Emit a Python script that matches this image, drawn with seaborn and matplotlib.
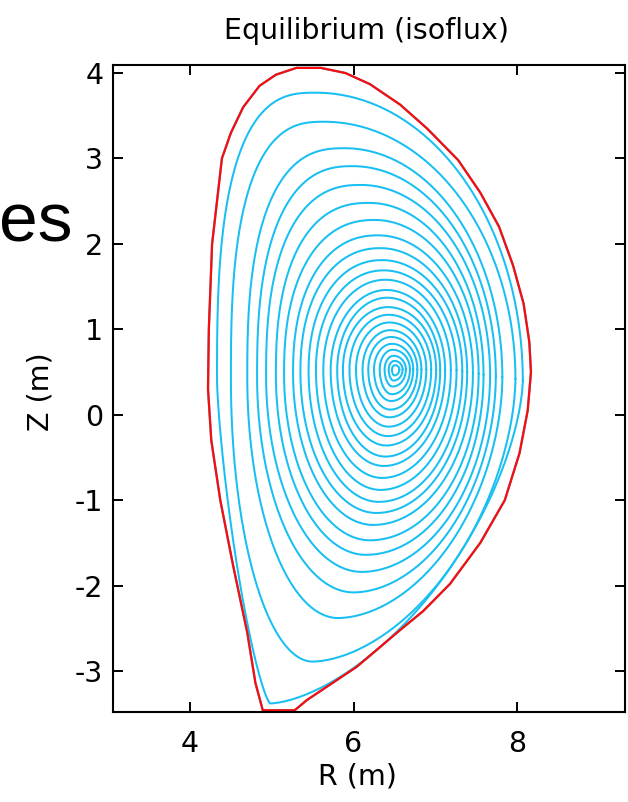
import numpy as np
import pandas as pd
import matplotlib
matplotlib.use("Agg")
import matplotlib.pyplot as plt
import seaborn as sns

# ---------------- data ----------------
# Plasma boundary (separatrix), R and Z in metres
boundary_R = [5.30, 5.60, 5.90, 6.20, 6.57, 6.90, 7.28, 7.55, 7.78, 7.95, 8.08, 8.15,
              8.17, 8.13, 8.03, 7.85, 7.55, 7.18, 6.85, 6.57, 6.04, 5.43, 5.28, 4.89,
              4.80, 4.70, 4.53, 4.37, 4.26, 4.22, 4.23, 4.27, 4.39, 4.50, 4.65, 4.85,
              5.05, 5.30]
boundary_Z = [4.06, 4.06, 4.00, 3.87, 3.63, 3.35, 2.98, 2.60, 2.20, 1.75, 1.30, 0.85,
              0.50, 0.05, -0.45, -1.00, -1.50, -1.98, -2.30, -2.52, -2.95, -3.34, -3.46, -3.46,
              -3.14, -2.55, -1.78, -1.00, -0.30, 0.30, 1.00, 2.00, 3.00, 3.30, 3.60, 3.85,
              3.98, 4.06]

# Isoflux surfaces (outer -> inner): extremal points of each closed contour
surf_r_in = [4.33, 4.50, 4.70, 4.82, 4.93, 5.05, 5.15, 5.26, 5.35, 5.45, 5.54, 5.63,
             5.72, 5.80, 5.87, 5.95, 6.03, 6.11, 6.18, 6.25, 6.32, 6.38, 6.43, 6.47]
surf_r_out = [8.07, 7.98, 7.82, 7.74, 7.67, 7.59, 7.53, 7.46, 7.39, 7.33, 7.26, 7.19,
              7.12, 7.06, 7.01, 6.95, 6.89, 6.83, 6.78, 6.73, 6.69, 6.64, 6.60, 6.56]
surf_z_top = [3.77, 3.43, 3.12, 2.91, 2.69, 2.48, 2.28, 2.10, 1.95, 1.81, 1.69, 1.58,
              1.46, 1.37, 1.26, 1.17, 1.08, 0.99, 0.91, 0.83, 0.76, 0.69, 0.63, 0.58]
surf_z_bot = [-3.38, -2.89, -2.38, -2.08, -1.84, -1.64, -1.47, -1.29, -1.15, -1.02, -0.88, -0.74,
              -0.60, -0.49, -0.36, -0.25, -0.14, -0.03, 0.06, 0.16, 0.24, 0.33, 0.40, 0.46]
surf_r_top = [5.54, 5.64, 5.89, 5.99, 6.09, 6.19, 6.26, 6.30, 6.33, 6.35, 6.37, 6.39,
              6.40, 6.41, 6.42, 6.43, 6.44, 6.45, 6.46, 6.47, 6.48, 6.49, 6.50, 6.51]
surf_r_bot = [4.98, 5.50, 5.81, 6.00, 6.10, 6.15, 6.20, 6.24, 6.28, 6.31, 6.33, 6.35,
              6.37, 6.39, 6.40, 6.42, 6.43, 6.44, 6.45, 6.46, 6.47, 6.48, 6.49, 6.50]
surf_z_mid = [0.40, 0.42, 0.44, 0.45, 0.46, 0.47, 0.48, 0.49, 0.50, 0.51, 0.52, 0.52,
              0.52, 0.52, 0.53, 0.53, 0.53, 0.53, 0.53, 0.53, 0.53, 0.53, 0.53, 0.53]
# squareness of the upper-inner, lower-inner and lower-outer quarter of each contour
surf_sq_ui = [2.8, 2.7, 2.6, 2.5, 2.45, 2.4, 2.3, 2.25, 2.2, 2.15, 2.1, 2.05,
              2.0, 2.0, 2.0, 2.0, 2.0, 2.0, 2.0, 2.0, 2.0, 2.0, 2.0, 2.0]
surf_sq_li = [1.35, 2.0, 2.0, 2.0, 2.0, 2.0, 2.0, 2.0, 2.0, 2.0, 2.0, 2.0,
              2.0, 2.0, 2.0, 2.0, 2.0, 2.0, 2.0, 2.0, 2.0, 2.0, 2.0, 2.0]
surf_sq_lo = [1.6, 1.75, 1.85, 1.9, 1.95, 2.0, 2.0, 2.0, 2.0, 2.0, 2.0, 2.0,
              2.0, 2.0, 2.0, 2.0, 2.0, 2.0, 2.0, 2.0, 2.0, 2.0, 2.0, 2.0]

x_ticks = [4, 6, 8]
y_ticks = [-3, -2, -1, 0, 1, 2, 3, 4]

CYAN = "#18BFF2"
RED = "#FF0A0A"


def quarter(rc, zc, a, b, p, sx, sy, rev, n=90):
    """One quarter of a closed outline between two extremal points."""
    t = np.linspace(0.0, np.pi / 2, n)
    x = np.cos(t) ** (2.0 / p)
    y = np.sin(t) ** (2.0 / p)
    R = rc + sx * a * x
    Z = zc + sy * b * y
    if rev:
        R, Z = R[::-1], Z[::-1]
    return R, Z


def surface_outline(i):
    ri, ro = surf_r_in[i], surf_r_out[i]
    zt, zb = surf_z_top[i], surf_z_bot[i]
    rt, rb, zm = surf_r_top[i], surf_r_bot[i], surf_z_mid[i]
    parts = [
        quarter(rt, zm, ro - rt, zt - zm, 2.0, +1, +1, False),          # outer -> top
        quarter(rt, zm, rt - ri, zt - zm, surf_sq_ui[i], -1, +1, True),  # top -> inner
        quarter(rb, zm, rb - ri, zm - zb, surf_sq_li[i], -1, -1, False), # inner -> bottom
        quarter(rb, zm, ro - rb, zm - zb, surf_sq_lo[i], +1, -1, True),  # bottom -> outer
    ]
    R = np.concatenate([p[0] for p in parts])
    Z = np.concatenate([p[1] for p in parts])
    return R, Z


frames = []
for i in range(len(surf_r_in)):
    R, Z = surface_outline(i)
    frames.append(pd.DataFrame({"level": i, "R": R, "Z": Z}))
surf_df = pd.concat(frames, ignore_index=True)
bnd_df = pd.DataFrame({"R": boundary_R, "Z": boundary_Z})

# ---------------- figure ----------------
sns.set_theme(style="ticks")
plt.rcParams["font.family"] = ["DejaVu Sans"]
plt.rcParams["axes.unicode_minus"] = False

fig = plt.figure(figsize=(6.28, 8.02), dpi=100)
fig.patch.set_facecolor("white")
ax = fig.add_axes([113 / 628, 90 / 802, 512 / 628, 647 / 802])
ax.set_facecolor("white")

sns.lineplot(data=surf_df, x="R", y="Z", units="level", estimator=None, sort=False,
             color=CYAN, linewidth=1.45, legend=False, ax=ax)
sns.lineplot(data=bnd_df, x="R", y="Z", estimator=None, sort=False,
             color=CYAN, linewidth=1.6, legend=False, ax=ax)
sns.lineplot(data=bnd_df, x="R", y="Z", estimator=None, sort=False,
             color=RED, linewidth=1.6, legend=False, ax=ax)

ax.set_xlim(3.058, 9.32)
ax.set_ylim(-3.48, 4.094)
ax.set_xticks(x_ticks)
ax.set_yticks(y_ticks)
ax.set_xticklabels([str(t) for t in x_ticks])
ax.set_yticklabels([str(t) for t in y_ticks])
ax.set_xlabel("")
ax.set_ylabel("")
for s in ax.spines.values():
    s.set_visible(True)
    s.set_color("black")
    s.set_linewidth(1.5)
ax.tick_params(axis="both", which="major", direction="in", length=7, width=1.4,
               colors="black", labelsize=20.5, top=True, right=True)
ax.tick_params(axis="x", pad=13)
ax.tick_params(axis="y", pad=7)

fig.text(367 / 628, 1 - 31 / 802, "Equilibrium (isoflux)", ha="center", va="center",
         fontsize=20.5, color="black")
fig.text(357 / 628, 1 - 776 / 802, "R (m)", ha="center", va="center",
         fontsize=20.5, color="black")
fig.text(41 / 628, 1 - 392 / 802, "Z (m)", ha="center", va="center", rotation=90,
         fontsize=20.5, color="black")
fig.text(72 / 628, 1 - 241 / 802, "es", ha="right", va="baseline", fontsize=50,
         color="black", family=["Liberation Sans", "DejaVu Sans"])

fig.savefig("out.png", dpi=100, facecolor="white")
